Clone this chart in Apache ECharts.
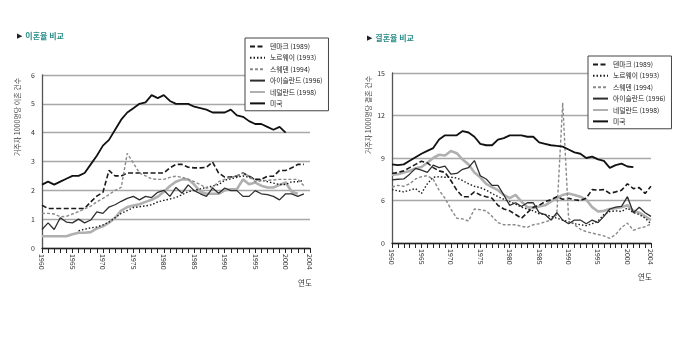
<!DOCTYPE html>
<html><head><meta charset="utf-8">
<script src="https://cdn.jsdelivr.net/npm/echarts@6/dist/echarts.min.js"></script>
<style>html,body{margin:0;padding:0;background:#fff}#c{width:700px;height:358px}</style>
</head><body><div id="c"></div>
<script>
// ---- data ----
const years = [];
for (let y = 1960; y <= 2004; y++) years.push(String(y));
const seriesNames = ['덴마크 (1989)', '노르웨이 (1993)', '스웨덴 (1994)', '아이슬란드 (1996)', '네덜란드 (1998)', '미국'];

// divorce rate per 1000 residents, 1960-2004
const divDenmark = [1.48,1.37,1.37,1.37,1.37,1.37,1.37,1.37,1.6,1.8, 1.93,2.69,2.5,2.5,2.6,2.6,2.6,2.6,2.6,2.6, 2.6,2.78,2.9,2.9,2.8,2.78,2.78,2.8,2.98,2.6, 2.46,2.46,2.5,2.6,2.49,2.38,2.38,2.49,2.49,2.69, 2.69,2.78,2.9,2.9,null];
const divNorway = [null,null,null,null,null,null,0.6,0.65,0.7,0.73, 0.8,0.9,1.05,1.2,1.3,1.4,1.43,1.46,1.5,1.6, 1.65,1.7,1.75,1.85,1.95,2.0,2.05,2.1,2.15,2.2, 2.35,2.4,2.45,2.5,2.45,2.38,2.35,2.3,2.25,2.2, 2.2,2.3,2.3,2.35,null];
const divSweden = [1.2,1.2,1.18,1.08,1.1,1.18,1.26,1.36,1.45,1.6, 1.72,1.85,2.0,2.1,3.28,2.95,2.6,2.5,2.4,2.38, 2.38,2.45,2.49,2.45,2.38,2.3,2.2,2.08,2.1,2.3, 2.38,2.45,2.5,2.6,2.5,2.3,2.33,2.35,2.36,2.38, 2.38,2.38,2.38,2.16,null];
const divIceland = [0.64,0.87,0.64,1.05,0.9,0.87,1.0,0.87,0.97,1.25, 1.2,1.42,1.5,1.62,1.72,1.79,1.67,1.79,1.75,1.93, 2.0,1.79,2.1,1.9,2.19,1.99,1.88,1.79,2.08,1.9, 2.08,1.99,1.99,1.79,1.79,1.99,1.88,1.85,1.79,1.67, 1.88,1.88,1.79,1.88,null];
const divNetherlands = [0.41,0.41,0.41,0.41,0.41,0.48,0.53,0.53,0.55,0.68, 0.75,0.88,1.05,1.3,1.42,1.47,1.52,1.6,1.67,1.78, 1.95,2.15,2.3,2.38,2.38,2.2,1.95,1.88,1.88,1.88, 2.0,2.04,2.04,2.38,2.21,2.27,2.16,2.1,2.1,2.19, 2.27,1.95,1.88,null,null];
const divUSA = [2.2,2.3,2.2,2.3,2.4,2.5,2.5,2.6,2.9,3.2, 3.55,3.75,4.1,4.45,4.7,4.85,5.0,5.05,5.3,5.2, 5.3,5.1,5.0,5.0,5.0,4.9,4.85,4.8,4.7,4.7, 4.7,4.8,4.6,4.55,4.4,4.3,4.3,4.2,4.1,4.2, 4.0,null,null,null,null];

// marriage rate per 1000 residents, 1960-2004
const marDenmark = [7.91,7.98,8.09,8.32,8.55,8.77,8.66,8.32,8.09,7.98, 7.41,6.73,6.27,6.27,6.61,6.39,6.27,6.16,5.66,5.4, 5.27,5.01,4.75,5.14,5.53,5.66,5.92,6.05,6.27,6.09, 6.16,6.05,6.0,6.16,6.77,6.73,6.77,6.5,6.61,6.73, 7.18,6.84,6.91,6.5,7.0];
const marNorway = [6.77,6.68,6.61,6.73,6.84,6.5,7.18,7.64,7.68,7.64, 7.64,7.59,7.41,7.18,7.0,6.91,6.73,6.5,6.27,6.09, 5.92,5.74,5.53,5.4,5.27,5.06,5.01,4.88,4.75,4.62, 4.49,4.36,4.29,4.23,4.36,4.55,5.01,5.22,5.27,5.22, 5.48,5.14,5.01,4.75,4.36];
const marSweden = [6.95,7.07,7.0,7.18,7.52,7.68,7.75,7.5,6.73,6.16, 5.4,4.75,4.7,4.55,5.4,5.35,5.27,4.88,4.44,4.29, 4.29,4.29,4.18,4.1,4.29,4.36,4.49,4.62,5.01,12.9, 4.75,4.29,3.97,3.8,3.7,3.6,3.5,3.33,3.6,4.1, 4.4,3.9,4.05,4.15,4.35];
const marIceland = [7.45,7.5,7.52,7.86,8.27,8.14,7.98,8.5,8.32,8.43, 7.86,7.91,8.2,8.32,8.82,7.75,7.52,7.07,7.07,6.39, 5.66,5.84,5.58,5.84,5.84,5.14,5.01,4.62,5.14,4.62, 4.36,4.62,4.62,4.36,4.62,4.44,4.88,5.4,5.53,5.58, 6.27,5.14,5.53,5.14,4.88];
const marNetherlands = [7.82,7.86,7.98,8.09,8.27,8.36,8.66,9.0,9.23,9.18, 9.5,9.34,8.89,8.55,7.98,7.64,7.18,6.95,6.73,6.39, 6.16,6.39,5.92,5.53,5.48,5.58,5.66,5.92,6.16,6.39, 6.5,6.39,6.27,6.05,5.53,5.22,5.27,5.4,5.45,5.53, 5.66,5.27,5.14,4.88,4.62];
const marUSA = [8.55,8.5,8.55,8.8,9.05,9.3,9.5,9.7,10.3,10.6, 10.6,10.6,10.9,10.8,10.5,10.0,9.9,9.9,10.3,10.4, 10.6,10.6,10.6,10.5,10.5,10.1,10.0,9.9,9.85,9.8, 9.6,9.4,9.3,9.0,9.1,8.9,8.8,8.3,8.5,8.6, 8.4,8.35,null,null,null];

const divTicks = [0,1,2,3,4,5,6];
const marTickLabels = {3:'0', 6:'6', 9:'9', 12:'12', 15:'15'};
const xLabelYears = ['1960','1965','1970','1975','1980','1985','1990','1995','2000','2004'];

// ---- styles ----
const FONT = "'Noto Sans CJK KR', 'Noto Sans', sans-serif";
const styles = [
  {color:'#1a1a1a', width:1.6, type:[5,2.5]},
  {color:'#1a1a1a', width:1.4, type:[1.5,2]},
  {color:'#8a8a8a', width:1.4, type:[3,2]},
  {color:'#2e2e2e', width:1.3, type:'solid'},
  {color:'#b0b0b0', width:2.6, type:'solid'},
  {color:'#111111', width:1.8, type:'solid'}
];
const divData = [divDenmark, divNorway, divSweden, divIceland, divNetherlands, divUSA];
const marData = [marDenmark, marNorway, marSweden, marIceland, marNetherlands, marUSA];

function mkSeries(dataArr, idx) {
  return dataArr.map((d, i) => ({
    name: seriesNames[i], type: 'line', xAxisIndex: idx, yAxisIndex: idx,
    data: d, symbol: 'none', showSymbol: false, connectNulls: false,
    z: i === 4 ? 2 : 3,
    lineStyle: {color: styles[i].color, width: styles[i].width, type: styles[i].type},
    itemStyle: {color: styles[i].color},
    emphasis: {disabled: true}, animation: false
  }));
}

function mkX(gi) {
  return {
    type: 'category', gridIndex: gi, data: years, boundaryGap: false,
    axisLine: {lineStyle: {color: '#222', width: 1.3}},
    axisTick: {show: true, interval: 0, length: 5, lineStyle: {color: '#222', width: 1}},
    axisLabel: {
      interval: (i, v) => xLabelYears.indexOf(v) >= 0,
      rotate: -90, margin: 6, fontSize: 7, color: '#333', fontFamily: FONT
    },
    splitLine: {show: false}
  };
}
function mkLegend(left, top) {
  return {
    left: left, top: top, orient: 'vertical',
    data: seriesNames,
    backgroundColor: '#fff', borderColor: '#444', borderWidth: 1,
    padding: [5, 6, 4, 4], itemWidth: 15, itemHeight: 8, itemGap: 4.6,
    itemStyle: {opacity: 0},
    textStyle: {fontSize: 6.8, color: '#222', fontFamily: FONT},
    selectedMode: false, z: 10
  };
}

const option = {
  animation: false,
  textStyle: {fontFamily: FONT},
  grid: [
    {left: 42, right: 390, top: 75, bottom: 110, containLabel: false},
    {left: 392, right: 49, top: 73, bottom: 115, containLabel: false}
  ],
  xAxis: [mkX(0), mkX(1)],
  yAxis: [
    {type: 'value', gridIndex: 0, min: divTicks[0], max: divTicks[divTicks.length-1], interval: 1,
     axisLine: {show: true, lineStyle: {color: '#555', width: 1.3}}, axisTick: {show: false},
     axisLabel: {fontSize: 7, color: '#333', margin: 7, fontFamily: FONT},
     splitLine: {show: true, lineStyle: {color: '#a8a8a8', width: 1.4}}},
    {type: 'value', gridIndex: 1, min: 3, max: 15, interval: 3,
     axisLine: {show: true, lineStyle: {color: '#555', width: 1.3}}, axisTick: {show: false},
     axisLabel: {fontSize: 7, color: '#333', margin: 7, fontFamily: FONT,
                 formatter: v => marTickLabels[v] !== undefined ? marTickLabels[v] : ''},
     splitLine: {show: true, lineStyle: {color: '#a8a8a8', width: 1.4}}}
  ],
  legend: [mkLegend(245, 38), mkLegend(588, 56)],
  series: mkSeries(divData, 0).concat(mkSeries(marData, 1)),
  graphic: [
    {type: 'text', left: 17, top: 30, style: {
      text: '{a|▶} {b|이혼율 비교}',
      rich: {a: {fontSize: 7, fill: '#222'}, b: {fontSize: 8, fontWeight: 'bold', fill: '#2a8c86', fontFamily: FONT}}}},
    {type: 'text', left: 367, top: 32, style: {
      text: '{a|▶} {b|결혼율 비교}',
      rich: {a: {fontSize: 7, fill: '#222'}, b: {fontSize: 8, fontWeight: 'bold', fill: '#2a8c86', fontFamily: FONT}}}},
    {type: 'text', x: 17, y: 117, rotation: Math.PI/2, style: {
      text: '거주자 1000명당 이혼 건수', fontSize: 7, fill: '#444', fontFamily: FONT,
      textAlign: 'center', textVerticalAlign: 'middle'}},
    {type: 'text', x: 368, y: 115, rotation: Math.PI/2, style: {
      text: '거주자 1000명당 결혼 건수', fontSize: 7, fill: '#444', fontFamily: FONT,
      textAlign: 'center', textVerticalAlign: 'middle'}},
    {type: 'text', x: 305, y: 283, style: {
      text: '연도', fontSize: 7.5, fill: '#333', fontFamily: FONT,
      textAlign: 'center', textVerticalAlign: 'middle'}},
    {type: 'text', x: 645, y: 277, style: {
      text: '연도', fontSize: 7.5, fill: '#333', fontFamily: FONT,
      textAlign: 'center', textVerticalAlign: 'middle'}}
  ]
};
const chart = echarts.init(document.getElementById('c'), null, {renderer: 'canvas'});
chart.setOption(option);
</script>
</body></html>
